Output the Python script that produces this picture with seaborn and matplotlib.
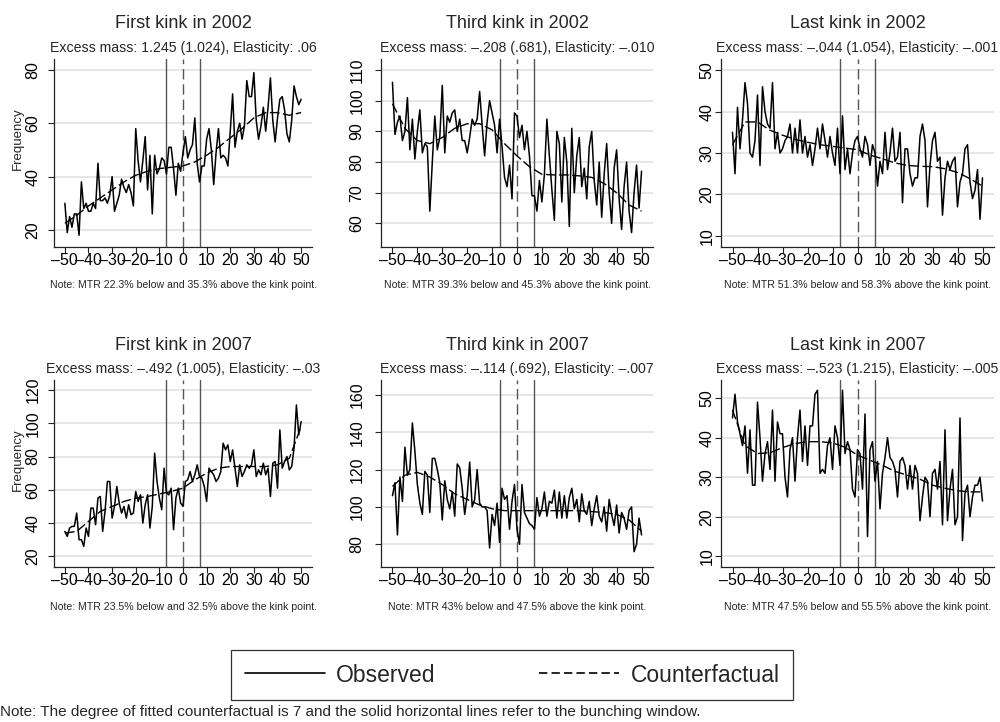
import matplotlib
matplotlib.use("Agg")
import pandas as pd
import matplotlib.pyplot as plt
import seaborn as sns
from matplotlib.lines import Line2D

# ------------------------ data ------------------------
bins = list(range(-50, 51))
cf_bins = list(range(-50, 51, 5))

obs_2002_first = [30, 19, 25, 21, 26, 26, 18, 38, 28, 30,
                  27, 27, 30, 28, 45, 31, 31, 32, 30, 33,
                  40, 27, 30, 33, 39, 36, 34, 37, 34, 29,
                  58, 46, 38, 46, 55, 35, 48, 26, 48, 41,
                  43, 47, 46, 41, 51, 51, 43, 33, 45, 42,
                  49, 55, 47, 50, 52, 62, 45, 38, 44, 44,
                  54, 58, 50, 37, 49, 58, 47, 48, 47, 44,
                  57, 71, 51, 57, 60, 54, 59, 76, 70, 70,
                  79, 61, 54, 59, 66, 57, 66, 77, 61, 53,
                  62, 69, 70, 65, 56, 53, 61, 74, 70, 67, 69]
obs_2002_third = [106, 89, 93, 95, 87, 90, 101, 84, 94, 81,
                  90, 97, 83, 86, 85, 64, 80, 95, 84, 88,
                  105, 83, 95, 93, 96, 97, 90, 94, 87, 87,
                  83, 88, 94, 92, 94, 103, 92, 82, 93, 100,
                  96, 92, 83, 94, 85, 75, 72, 79, 68, 96,
                  95, 88, 92, 84, 90, 82, 69, 69, 64, 74,
                  67, 76, 94, 82, 71, 61, 90, 86, 67, 88,
                  80, 59, 91, 70, 82, 88, 72, 78, 68, 85,
                  90, 74, 66, 80, 62, 76, 86, 70, 60, 78,
                  84, 68, 58, 72, 80, 64, 57, 70, 79, 65, 77]
obs_2002_last = [35, 25, 41, 31, 38, 47, 42, 30, 29, 33,
                 44, 27, 46, 40, 37, 36, 47, 31, 35, 30,
                 31, 33, 34, 37, 30, 36, 30, 38, 30, 34,
                 29, 32, 27, 31, 36, 31, 37, 33, 29, 34,
                 30, 27, 36, 25, 39, 26, 31, 25, 30, 33,
                 34, 31, 29, 34, 32, 27, 32, 30, 22, 28,
                 25, 35, 26, 30, 36, 28, 29, 35, 18, 31,
                 31, 25, 22, 24, 24, 34, 37, 33, 17, 27,
                 33, 35, 28, 29, 15, 24, 28, 26, 28, 29,
                 17, 23, 25, 31, 32, 23, 19, 21, 26, 14, 24]
obs_2007_first = [35, 32, 37, 38, 38, 46, 30, 30, 26, 37,
                  32, 49, 49, 39, 55, 56, 35, 47, 65, 65,
                  43, 50, 62, 52, 46, 50, 43, 51, 45, 46,
                  59, 53, 57, 40, 51, 57, 37, 50, 82, 65,
                  55, 48, 73, 58, 57, 61, 36, 55, 61, 52,
                  50, 65, 66, 71, 65, 69, 75, 68, 67, 62,
                  53, 73, 71, 69, 65, 67, 71, 88, 84, 87,
                  77, 84, 73, 62, 75, 68, 71, 75, 73, 75,
                  84, 68, 72, 69, 76, 69, 73, 56, 76, 77,
                  61, 96, 73, 77, 80, 72, 74, 85, 111, 93, 101]
obs_2007_third = [106, 113, 85, 116, 103, 132, 117, 120, 145, 130,
                  112, 102, 96, 119, 117, 97, 126, 126, 120, 113,
                  93, 114, 104, 99, 108, 95, 123, 121, 110, 96,
                  106, 124, 100, 104, 120, 102, 100, 100, 98, 78,
                  96, 90, 102, 81, 110, 104, 106, 88, 103, 112,
                  88, 80, 112, 97, 94, 91, 90, 88, 105, 95,
                  99, 108, 95, 103, 102, 109, 94, 108, 94, 106,
                  94, 105, 110, 99, 104, 92, 107, 98, 96, 103,
                  90, 99, 106, 95, 92, 100, 87, 104, 96, 90,
                  101, 86, 97, 94, 88, 98, 100, 76, 80, 94, 85]
obs_2007_last = [45, 51, 44, 41, 38, 43, 31, 42, 28, 28,
                 49, 40, 29, 36, 39, 32, 47, 29, 44, 41,
                 41, 30, 25, 37, 40, 29, 40, 47, 34, 43,
                 33, 43, 43, 51, 52, 31, 32, 31, 38, 40,
                 32, 43, 40, 33, 52, 36, 39, 37, 27, 25,
                 37, 36, 27, 46, 15, 37, 39, 29, 34, 22,
                 31, 35, 40, 35, 34, 32, 25, 34, 35, 33,
                 27, 33, 27, 33, 31, 19, 25, 30, 29, 20,
                 31, 32, 27, 34, 18, 42, 19, 27, 32, 18,
                 20, 45, 14, 26, 28, 20, 25, 28, 28, 30, 24]

# fitted counterfactual (degree 7), read every 5 bins
cf_2002_first = [22.5, 25.5, 29, 32, 35, 38, 40.5, 42, 43, 43.5, 44,
                 45.5, 48, 51, 54.5, 58, 62, 64, 64, 63, 64]
cf_2002_third = [99, 91, 87, 86, 88, 91, 92.5, 92.5, 90.5, 86, 82,
                 78.5, 76, 75.8, 75.8, 75.5, 75, 73, 70, 66, 64]
cf_2002_last = [32, 37.5, 37.5, 35.5, 34.3, 33.3, 32.6, 32, 31.6, 31.2, 30.8,
                29.5, 28.6, 27.6, 27, 26.8, 26.7, 26.2, 25.3, 23.8, 22]
cf_2007_first = [34, 35, 41, 47, 50, 53, 55, 56, 57.5, 59, 61,
                 66, 70, 73, 74, 74, 74, 74, 75, 79, 98]
cf_2007_third = [111, 117, 118.5, 116, 112, 107, 104, 101, 99, 98, 98,
                 98, 98, 98, 98, 98, 97.5, 97, 96, 93, 87]
cf_2007_last = [47, 38, 36, 36.2, 37.5, 38.5, 39, 39, 38.7, 37.6, 35.6,
                34.3, 33, 31.5, 30.5, 29.5, 28, 27.2, 26.6, 26.3, 26.3]

titles = ["First kink in 2002", "Third kink in 2002", "Last kink in 2002",
          "First kink in 2007", "Third kink in 2007", "Last kink in 2007"]
subtitles = ["Excess mass: 1.245 (1.024), Elasticity: .06",
             "Excess mass: \u2013.208 (.681), Elasticity: \u2013.010",
             "Excess mass: \u2013.044 (1.054), Elasticity: \u2013.001",
             "Excess mass: \u2013.492 (1.005), Elasticity: \u2013.03",
             "Excess mass: \u2013.114 (.692), Elasticity: \u2013.007",
             "Excess mass: \u2013.523 (1.215), Elasticity: \u2013.005"]
notes = ["Note: MTR 22.3% below and 35.3% above the kink point.",
         "Note: MTR 39.3% below and 45.3% above the kink point.",
         "Note: MTR 51.3% below and 58.3% above the kink point.",
         "Note: MTR 23.5% below and 32.5% above the kink point.",
         "Note: MTR 43% below and 47.5% above the kink point.",
         "Note: MTR 47.5% below and 55.5% above the kink point."]
x_ticks = list(range(-50, 51, 10))
x_tick_labels = ["\u201350", "\u201340", "\u201330", "\u201320", "\u201310",
                 "0", "10", "20", "30", "40", "50"]
y_ticks = [[20, 40, 60, 80], [60, 70, 80, 90, 100, 110], [10, 20, 30, 40, 50],
           [20, 40, 60, 80, 100, 120], [80, 100, 120, 140, 160], [10, 20, 30, 40, 50]]
bunch_lo, kink, bunch_hi = -7, 0, 7

observed = [obs_2002_first, obs_2002_third, obs_2002_last,
            obs_2007_first, obs_2007_third, obs_2007_last]
counterf = [cf_2002_first, cf_2002_third, cf_2002_last,
            cf_2007_first, cf_2007_third, cf_2007_last]

# ------------------------ layout (pixels) ------------------------
W, H = 1000, 722
cols = [(54, 312), (381, 653), (721, 994)]
rows = [(59, 247), (380, 567)]
ylims = [(13.6, 84.1), (52.3, 113.6), (7.3, 52.7),
         (13.6, 126), (67.8, 168), (7.3, 54.6)]
ypads = [5.7, 7.8, 0.6]

sns.set_theme(style="ticks")
plt.rcParams["font.family"] = ["Liberation Sans", "DejaVu Sans"]

fig = plt.figure(figsize=(10, 7.22), dpi=100)
DASH = (0, (7, 2.5))

for i in range(6):
    r, c = divmod(i, 3)
    l, rr = cols[c]
    t, b = rows[r]
    ax = fig.add_axes([l / W, 1 - b / H, (rr - l) / W, (b - t) / H])

    df = pd.DataFrame({"bin": bins, "freq": observed[i]})
    cf = pd.DataFrame({"bin": cf_bins, "freq": counterf[i]})

    # bunching window (solid) and kink point (dashed)
    ax.axvline(bunch_lo, color="#555555", lw=1.0, zorder=1.5)
    ax.axvline(bunch_hi, color="#555555", lw=1.0, zorder=1.5)
    ax.axvline(kink, color="#555555", lw=1.0, ls=(0, (7.5, 3.5)), zorder=1.5)

    sns.lineplot(data=df, x="bin", y="freq", color="black", lw=1.1, ax=ax, zorder=3)
    sns.lineplot(data=cf, x="bin", y="freq", color="black", lw=1.0,
                 linestyle=DASH, ax=ax, zorder=3)

    ax.set_xlim(-54.6, 54.6)
    ax.set_ylim(*ylims[i])
    ax.set_xticks(x_ticks)
    ax.set_xticklabels(x_tick_labels)
    ax.set_yticks(y_ticks[i])
    ax.set_xlabel("")
    ax.set_ylabel("")
    ax.yaxis.grid(True, color="#e6e6e6", lw=1.4)
    ax.xaxis.grid(False)
    ax.set_axisbelow(True)
    sns.despine(ax=ax)
    for s in ("left", "bottom"):
        ax.spines[s].set_color("#222222")
        ax.spines[s].set_linewidth(0.9)
    ax.tick_params(axis="both", direction="out", length=4, width=0.8,
                   color="#222222", labelsize=11.5, labelcolor="black")
    ax.tick_params(axis="x", pad=0)
    ax.tick_params(axis="y", pad=ypads[c])
    plt.setp(ax.get_yticklabels(), rotation=90, va="center")

    cx = (l + rr) / 2 / W
    ty = [24, 345][r]
    fig.text(cx, 1 - ty / H, titles[i], ha="center", va="center", fontsize=13)
    fig.text(cx, 1 - (ty + 24) / H, subtitles[i], ha="center", va="center", fontsize=10.2)
    fig.text(cx, 1 - [285, 607][r] / H, notes[i], ha="center", va="center", fontsize=7.6)

for fy in (139, 460):
    fig.text(18 / W, 1 - fy / H, "Frequency", rotation=90, ha="center",
             va="center", fontsize=9.5)

handles = [Line2D([], [], color="black", lw=1.2),
           Line2D([], [], color="black", lw=1.2, ls=(0, (5, 2.5)))]
leg = fig.legend(handles, ["Observed", "Counterfactual"], loc="center",
                 bbox_to_anchor=(0.512, 1 - 675 / H), ncol=2, fontsize=16.5,
                 frameon=True, fancybox=False, edgecolor="black",
                 handlelength=3.5, handletextpad=0.5, columnspacing=4.5,
                 borderpad=0.6)
leg.get_frame().set_linewidth(0.9)

fig.text(0.0, 1 - 712 / H,
         "Note: The degree of fitted counterfactual is 7 and the solid horizontal "
         "lines refer to the bunching window.",
         ha="left", va="center", fontsize=11)

fig.savefig("out.png", dpi=100)
